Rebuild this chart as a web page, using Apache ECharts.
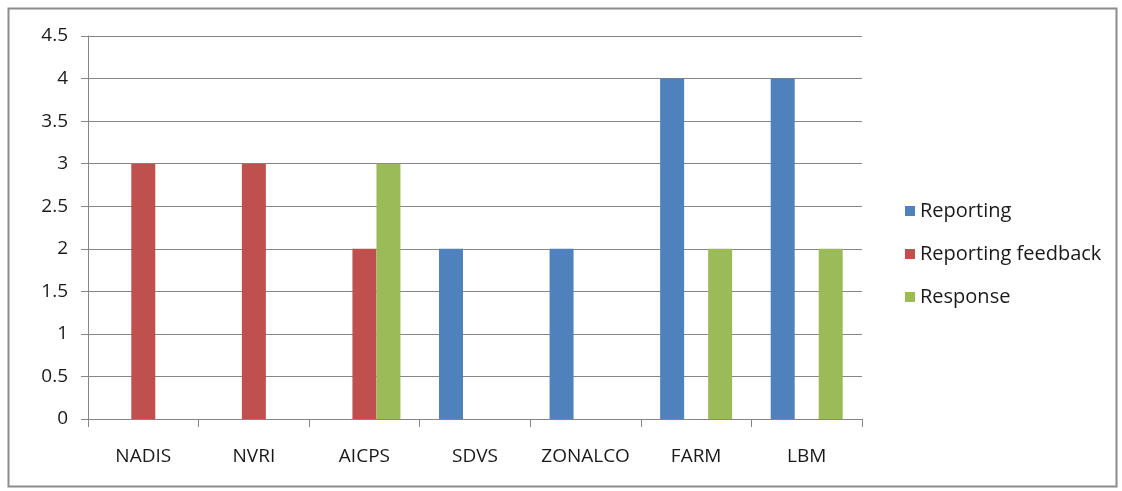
<!DOCTYPE html>
<html>
<head>
<meta charset="utf-8">
<script src="https://cdn.jsdelivr.net/npm/echarts@6/dist/echarts.min.js"></script>
<style>
  html, body { margin: 0; padding: 0; background: #fff; }
  #main { width: 1122px; height: 491px; }
</style>
</head>
<body>
<div id="main"></div>
<script>
var categories = ['NADIS', 'NVRI', 'AICPS', 'SDVS', 'ZONALCO', 'FARM', 'LBM'];
var reporting = [0, 0, 0, 2, 2, 4, 4];
var reportingFeedback = [3, 3, 2, 0, 0, 0, 0];
var response = [0, 0, 3, 0, 0, 2, 2];

var chartDom = document.getElementById('main');
var myChart = echarts.init(chartDom);
var font = 'Open Sans, sans-serif';

function bar(name, data, color) {
    return {
        name: name,
        type: 'bar',
        data: data,
        barWidth: 24,
        barGap: '0%',
        itemStyle: { color: color },
        emphasis: { disabled: true }
    };
}

var option = {
    animation: false,
    graphic: [{
        type: 'rect',
        shape: { x: 8.5, y: 8.5, width: 1108, height: 478 },
        style: { fill: 'none', stroke: '#8c8c8c', lineWidth: 2 }
    }],
    legend: {
        orient: 'vertical',
        left: 900,
        top: 194,
        itemWidth: 10,
        itemHeight: 10,
        itemGap: 19,
        icon: 'rect',
        textStyle: { fontFamily: font, fontSize: 20, color: '#1a1a1a', lineHeight: 24 },
        data: ['Reporting', 'Reporting feedback', 'Response']
    },
    grid: {
        left: 88,
        right: 260,
        top: 36,
        bottom: 72
    },
    xAxis: {
        type: 'category',
        data: categories,
        axisLine: { lineStyle: { color: '#868686' } },
        axisTick: { show: true, interval: 0, length: 8, lineStyle: { color: '#868686' } },
        axisLabel: { interval: 0, margin: 28, fontFamily: font, fontSize: 19, color: '#1a1a1a' }
    },
    yAxis: {
        type: 'value',
        min: 0,
        max: 4.5,
        interval: 0.5,
        axisLine: { show: true, lineStyle: { color: '#868686' } },
        axisTick: { show: true, length: 7, lineStyle: { color: '#868686' } },
        splitLine: { lineStyle: { color: '#868686' } },
        axisLabel: { margin: 20, fontFamily: font, fontSize: 19, color: '#1a1a1a' }
    },
    series: [
        bar('Reporting', reporting, '#4F81BD'),
        bar('Reporting feedback', reportingFeedback, '#C0504D'),
        bar('Response', response, '#9BBB59')
    ]
};

option && myChart.setOption(option);
</script>
</body>
</html>
